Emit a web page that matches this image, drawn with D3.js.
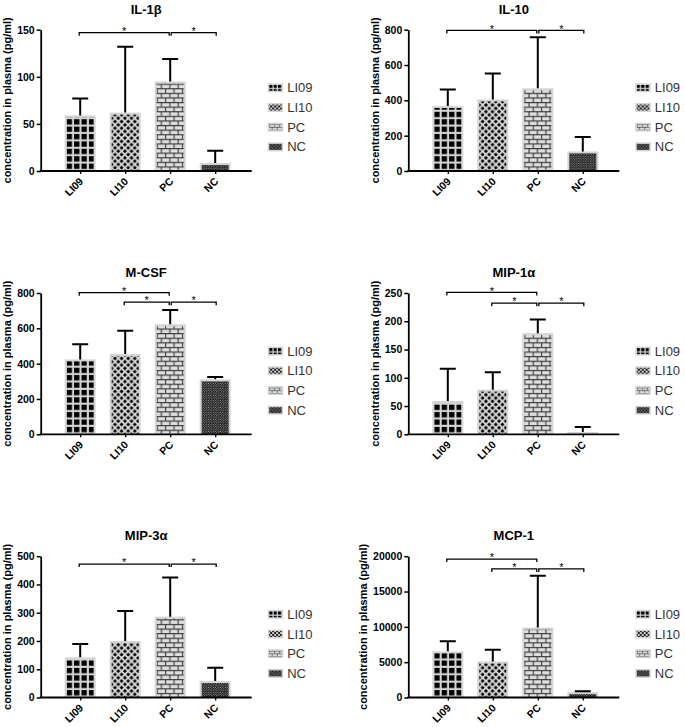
<!DOCTYPE html>
<html>
<head>
<meta charset="utf-8">
<script src="https://cdn.jsdelivr.net/npm/d3@7"></script>
<style>
    body { margin: 0; background: #fff; }
    svg { display: block; }
    text { font-family: "Liberation Sans", Arial, sans-serif; }
</style>
</head>
<body>
<div id="chart"></div>
<script>
// data
const groups = ["LI09", "LI10", "PC", "NC"];
const titles = ["IL-1β", "IL-10", "M-CSF", "MIP-1α", "MIP-3α", "MCP-1"];
const means = [
    [59, 62, 95, 8.5],
    [368, 405, 468, 111],
    [424, 454, 623, 311],
    [59, 79, 179, 4],
    [142, 200, 286, 58],
    [6530, 5110, 9900, 760]
];
const sds = [
    [18, 70, 24, 13],
    [94, 147, 289, 81],
    [86, 132, 81, 13],
    [57, 31, 24, 9],
    [47, 106, 139, 47],
    [1420, 1660, 7330, 140]
];
const yMaxes = [150, 800, 800, 250, 500, 20000];
const ySteps = [50, 200, 200, 50, 100, 5000];
// significance brackets: [from, to, height in data units]
const brackets = [
    [["LI09", "PC", 146.8], ["PC", "NC", 146.8]],
    [["LI09", "PC", 796], ["PC", "NC", 796]],
    [["LI09", "PC", 802], ["LI10", "PC", 748], ["PC", "NC", 748]],
    [["LI09", "PC", 251], ["LI10", "PC", 232], ["PC", "NC", 232]],
    [["LI09", "PC", 472], ["PC", "NC", 472]],
    [["LI09", "PC", 19600], ["LI10", "PC", 18200], ["PC", "NC", 18200]]
];
const yLabel = "concentration in plasma (pg/ml)";

const ctx = {
    w: 685, h: 727,
    colX: [40.7, 408.3],
    rowTop: [29.7, 293, 556.2],
    plotH: 141.3,
    axisW: 211,
    barW: 31,
    frame: "#d4d4d4"
};

function definePatterns(defs, prefix, scale) {
    let mk = (name, w, h) => {
        let p = defs.append("pattern")
            .attr("id", prefix + name)
            .attr("patternUnits", "userSpaceOnUse")
            .attr("width", w).attr("height", h);
        if (scale !== 1) p.attr("patternTransform", "scale(" + scale + ")");
        return p;
    };
    // LI09: black squares
    let p1 = mk("LI09", 7.4, 7.4);
    p1.append("rect").attr("width", 7.4).attr("height", 7.4).attr("fill", ctx.frame);
    p1.append("rect").attr("width", 5.3).attr("height", 5.3).attr("fill", "#000");
    // LI10: black star dots in a checker layout
    let p2 = mk("LI10", 6.6, 6.6);
    p2.append("rect").attr("width", 6.6).attr("height", 6.6).attr("fill", "#d8d8d8");
    for (let c of [[0, 0], [6.6, 0], [0, 6.6], [6.6, 6.6], [3.3, 3.3]]) {
        p2.append("path")
            .attr("transform", "translate(" + c[0] + "," + c[1] + ")")
            .attr("d", "M0,-2.2L0.8,-0.8L2.2,0L0.8,0.8L0,2.2L-0.8,0.8L-2.2,0L-0.8,-0.8Z")
            .attr("fill", "#000");
        p2.append("circle").attr("cx", c[0]).attr("cy", c[1]).attr("r", 1.45).attr("fill", "#000");
    }
    // PC: bricks
    let p3 = mk("PC", 8.4, 9.2);
    p3.append("rect").attr("width", 8.4).attr("height", 9.2).attr("fill", "#dedede");
    p3.append("path")
        .attr("d", "M0,0.55H8.4M0,5.15H8.4M0.55,0V4.6M4.75,4.6V9.2")
        .attr("stroke", "#3a3a3a").attr("stroke-width", 1.1).attr("fill", "none");
    // NC: fine dots on black
    let p4 = mk("NC", 2.4, 2.4);
    p4.append("rect").attr("width", 2.4).attr("height", 2.4).attr("fill", "#111");
    p4.append("circle").attr("cx", 0.6).attr("cy", 0.6).attr("r", 0.5).attr("fill", "#ddd");
    p4.append("circle").attr("cx", 1.8).attr("cy", 1.8).attr("r", 0.5).attr("fill", "#ddd");
}

function drawPanel(svg, i) {
    let col = i % 2, row = Math.floor(i / 2);
    let g = svg.append("g")
        .attr("transform", "translate(" + ctx.colX[col] + "," + ctx.rowTop[row] + ")");
    let H = ctx.plotH;

    let x = d3.scalePoint().domain(groups).range([39.5, 174.5]);
    let y = d3.scaleLinear().domain([0, yMaxes[i]]).range([H, 0]);

    // bars
    let barG = g.append("g");
    groups.forEach((grp, k) => {
        let top = y(means[i][k]);
        let bh = H - top;
        let bg = barG.append("g")
            .attr("transform", "translate(" + (x(grp) - ctx.barW / 2) + "," + H + ")");
        bg.append("rect")
            .attr("x", 0).attr("y", -bh)
            .attr("width", ctx.barW).attr("height", bh)
            .attr("fill", ctx.frame);
        let ih = Math.max(0, bh - 2);
        bg.append("g").attr("transform", "translate(2,0)")
            .append("rect")
            .attr("x", 0).attr("y", -ih)
            .attr("width", ctx.barW - 4).attr("height", ih)
            .attr("fill", "url(#bar-" + grp + ")");
    });

    // error bars (upper only)
    groups.forEach((grp, k) => {
        let cx = x(grp);
        let yt = y(means[i][k] + sds[i][k]);
        g.append("path")
            .attr("d", "M" + cx + "," + y(means[i][k]) + "V" + yt + "M" + (cx - 8) + "," + yt + "H" + (cx + 8))
            .attr("stroke", "#000").attr("stroke-width", 2).attr("fill", "none");
    });

    // y axis
    let ticks = d3.range(0, yMaxes[i] + 1, ySteps[i]);
    let yAxis = g.append("g")
        .call(d3.axisLeft(y).tickValues(ticks).tickSize(4).tickSizeOuter(0).tickPadding(2).tickFormat(d3.format("d")));
    yAxis.select(".domain").attr("stroke-width", 1.8);
    yAxis.selectAll(".tick line").attr("stroke-width", 1.5);
    yAxis.selectAll("text")
        .style("font-size", "10.5px").style("font-weight", "bold").attr("fill", "#000");

    // x axis
    g.append("line")
        .attr("x1", -0.9).attr("x2", ctx.axisW)
        .attr("y1", H).attr("y2", H)
        .attr("stroke", "#000").attr("stroke-width", 1.8);
    let xAxis = g.append("g")
        .attr("transform", "translate(0," + H + ")")
        .call(d3.axisBottom(x).tickSize(3).tickSizeOuter(0));
    xAxis.select(".domain").remove();
    xAxis.selectAll(".tick line").attr("stroke-width", 1.3);
    xAxis.selectAll("text")
        .attr("y", 0).attr("dy", null)
        .attr("transform", "translate(3.3,11) rotate(-45)")
        .style("text-anchor", "end")
        .style("font-size", "10.5px").style("font-weight", "bold").attr("fill", "#000");

    // y label, placed left of tick labels
    let bb = yAxis.node().getBBox();
    g.append("text")
        .attr("transform", "translate(" + (bb.x - 10) + "," + (H / 2) + ") rotate(-90)")
        .attr("text-anchor", "middle")
        .attr("dominant-baseline", "central")
        .style("font-size", "11px").style("font-weight", "bold")
        .text(yLabel);

    // title
    g.append("text")
        .attr("x", ctx.axisW / 2).attr("y", -16)
        .attr("text-anchor", "middle")
        .style("font-size", "13px").style("font-weight", "bold")
        .text(titles[i]);

    // significance brackets
    brackets[i].forEach(b => {
        let x1 = x(b[0]) + (b[0] === "PC" ? 1 : -1);
        let x2 = x(b[1]) + (b[1] === "PC" ? -1 : 1);
        let yb = y(b[2]);
        g.append("path")
            .attr("d", "M" + x1 + "," + (yb + 3) + "V" + yb + "H" + x2 + "V" + (yb + 3))
            .attr("stroke", "#000").attr("stroke-width", 1.3).attr("fill", "none");
        g.append("text")
            .attr("x", (x1 + x2) / 2).attr("y", yb + 2.2)
            .attr("text-anchor", "middle")
            .attr("fill", "#000")
            .style("font-size", "11px")
            .text("*");
    });

    // legend
    let legG = g.append("g")
        .attr("transform", "translate(227," + (H / 2 + 17 - 1.5 * 19.7) + ")");
    groups.forEach((grp, k) => {
        let rowG = legG.append("g").attr("transform", "translate(0," + (k * 19.7) + ")");
        rowG.append("rect")
            .attr("x", 0).attr("y", -4.5).attr("width", 15.5).attr("height", 9)
            .attr("fill", ctx.frame);
        rowG.append("g").attr("transform", "translate(1.5,-3)")
            .append("rect")
            .attr("width", 12.5).attr("height", 6)
            .attr("fill", "url(#leg-" + grp + ")");
        rowG.append("text")
            .attr("x", 19.5).attr("y", 0)
            .attr("dominant-baseline", "central")
            .style("font-size", "13px").attr("fill", "#333")
            .text(grp);
    });
}

let svg = d3.select("#chart").append("svg")
    .attr("width", ctx.w).attr("height", ctx.h);
let defs = svg.append("defs");
definePatterns(defs, "bar-", 1);
definePatterns(defs, "leg-", 0.6);

titles.forEach((t, i) => drawPanel(svg, i));
</script>
</body>
</html>
